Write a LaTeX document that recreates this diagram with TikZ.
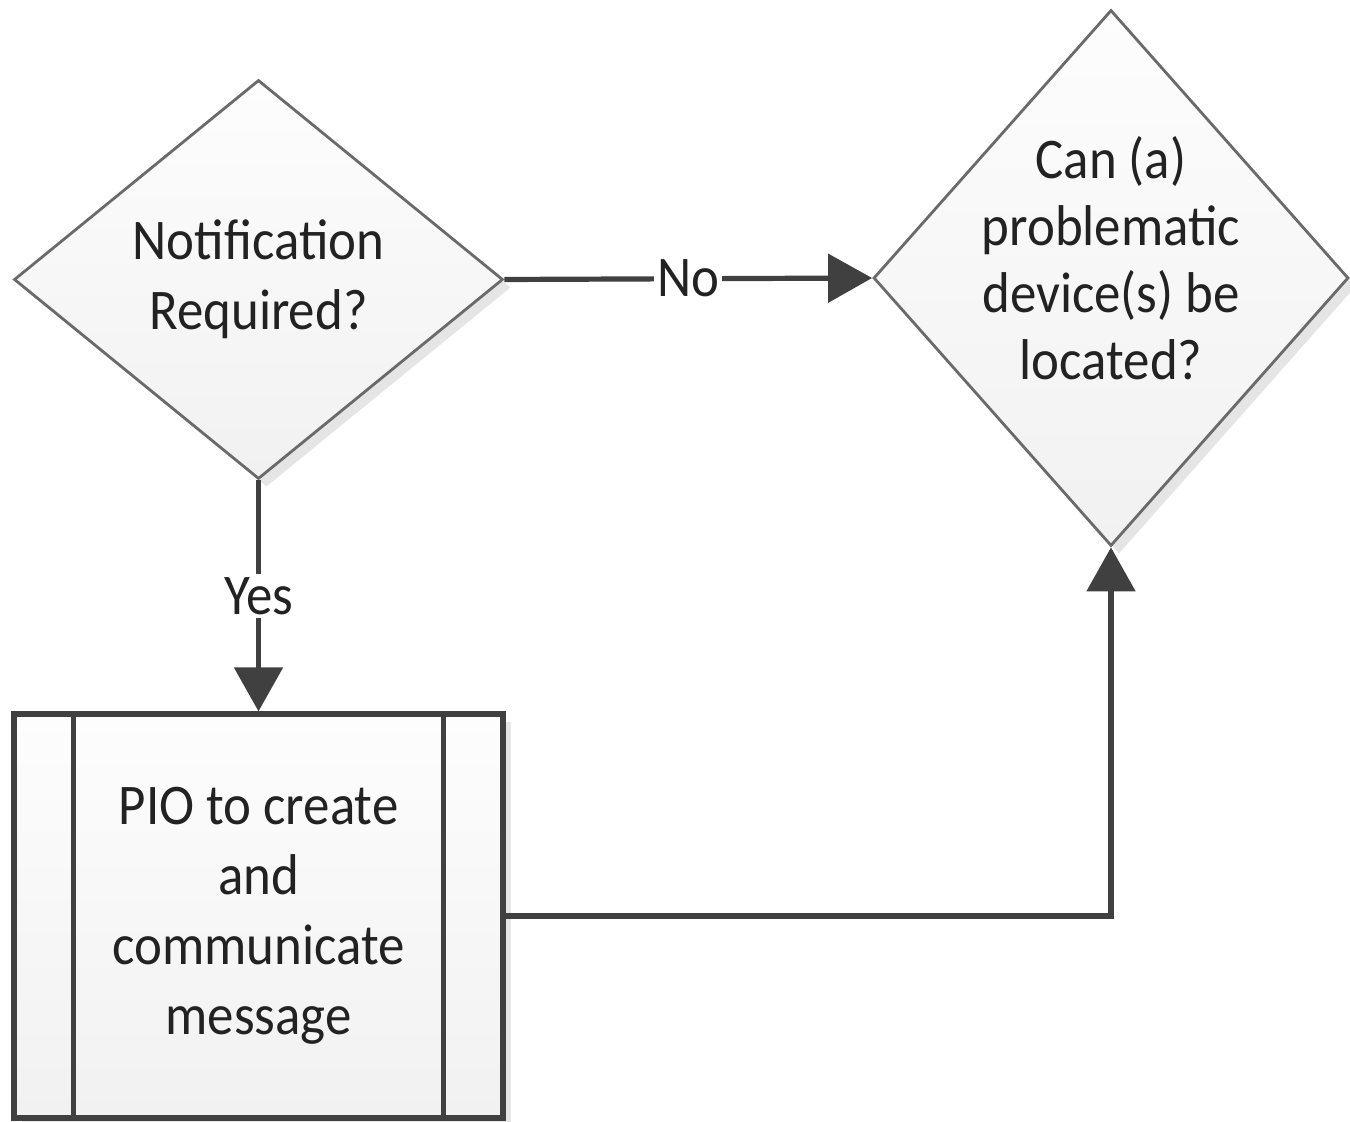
\documentclass[tikz,border=0pt]{standalone}
\usepackage{fontspec}
\setmainfont{Carlito}[FakeStretch=0.92]
\usetikzlibrary{arrows.meta,shapes.geometric,shadows}
\definecolor{linecol}{HTML}{404040}
\definecolor{edgecol}{HTML}{6A6A6A}
\definecolor{txtcol}{HTML}{222222}
\definecolor{shadecol}{HTML}{E5E5E5}
\definecolor{filltop}{HTML}{FDFDFD}
\definecolor{fillbot}{HTML}{F1F1F1}

\begin{document}
\begin{tikzpicture}[x=0.5pt,y=-0.5pt,
  boxshadow/.style={drop shadow={shadow xshift=4pt,shadow yshift=-4pt,fill=shadecol,opacity=1}},
  decision/.style={diamond,draw=edgecol,line width=1.4pt,top color=filltop,bottom color=fillbot,
    inner sep=0pt,boxshadow},
  process/.style={rectangle,draw=linecol,line width=2.6pt,top color=filltop,bottom color=fillbot,
    inner sep=0pt,minimum width=244.5pt,minimum height=202pt,boxshadow},
  txt/.style={font=\fontsize{28.75}{35}\selectfont,text=txtcol,align=center,inner sep=0pt},
  conn/.style={draw=linecol,line width=2.6pt,-{Triangle[length=22pt,width=24pt]}},
  lbl/.style={txt,fill=white,inner sep=1.5pt}]
\useasboundingbox (0,0) rectangle (1350,1122);

% decisions
\node[decision,minimum width=244.5pt,minimum height=199.5pt] (d1) at (258.5,279.5) {};
\node[txt] (t1) at (d1.center) {Notification\\Required?};

\node[decision,minimum width=237.5pt,minimum height=268pt] (d2) at (1111,278) {};
\node[txt,font=\fontsize{28.75}{33.5}\selectfont,yshift=10pt] (t2) at (d2.center)
  {Can (a)\\problematic\\device(s) be\\located?};

% predefined process
\node[process] (pr) at (258.5,916) {};
\draw[draw=linecol,line width=2.6pt] ([xshift=31pt]pr.north west) -- ([xshift=31pt]pr.south west);
\draw[draw=linecol,line width=2.6pt] ([xshift=-31pt]pr.north east) -- ([xshift=-31pt]pr.south east);
\node[txt] (t3) at (pr.center) {PIO to create\\and\\communicate\\message};

% connectors
\draw[conn] (d1.east) -- node[lbl] (lno) {No} (d2.west);
\draw[conn] (d1.south) -- node[lbl] (lyes) {Yes} (pr.north);
\draw[conn] (pr.east) -| (d2.south);
\end{tikzpicture}
\end{document}
